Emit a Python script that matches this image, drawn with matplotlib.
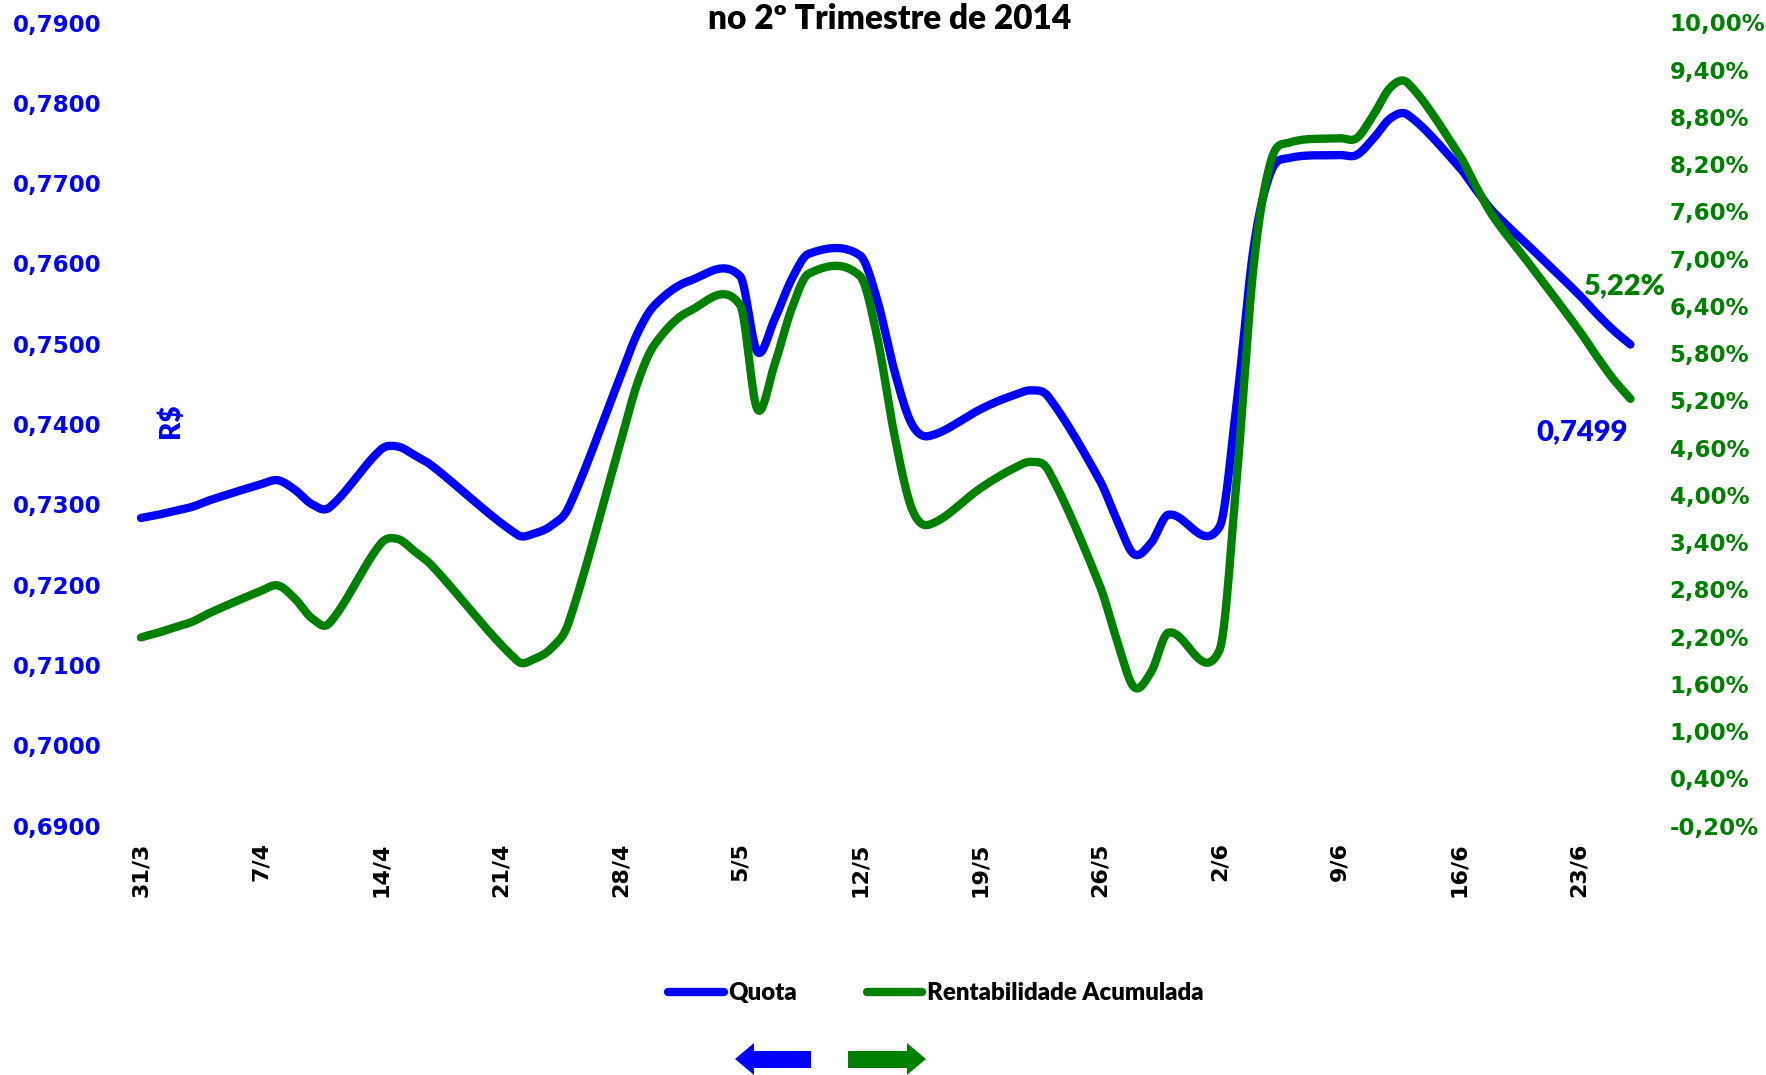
import matplotlib
matplotlib.use("Agg")
import matplotlib.pyplot as plt
import matplotlib.dates as mdates
import numpy as np
import pandas as pd
from matplotlib.patches import Polygon
from matplotlib.ticker import FuncFormatter, FixedLocator

# ---------------- data ----------------
dates = ["2014-03-31", "2014-04-01", "2014-04-02", "2014-04-03", "2014-04-04",
         "2014-04-07", "2014-04-08", "2014-04-09", "2014-04-10", "2014-04-11",
         "2014-04-14", "2014-04-15", "2014-04-16", "2014-04-17",
         "2014-04-22", "2014-04-23", "2014-04-24", "2014-04-25",
         "2014-04-28", "2014-04-29", "2014-04-30", "2014-05-02",
         "2014-05-05", "2014-05-06", "2014-05-07", "2014-05-08", "2014-05-09",
         "2014-05-12", "2014-05-13", "2014-05-14", "2014-05-15", "2014-05-16",
         "2014-05-19", "2014-05-20", "2014-05-21", "2014-05-22", "2014-05-23",
         "2014-05-26", "2014-05-27", "2014-05-28", "2014-05-29", "2014-05-30",
         "2014-06-02", "2014-06-03", "2014-06-04", "2014-06-05", "2014-06-06",
         "2014-06-09", "2014-06-10", "2014-06-11", "2014-06-12", "2014-06-13",
         "2014-06-16", "2014-06-17", "2014-06-18", "2014-06-20",
         "2014-06-23", "2014-06-24", "2014-06-25", "2014-06-26"]

quota = [0.7283, 0.7287, 0.7292, 0.7297, 0.7305,
         0.7325, 0.7330, 0.7318, 0.7300, 0.7296,
         0.7368, 0.7372, 0.7361, 0.7348,
         0.7262, 0.7264, 0.7274, 0.7297,
         0.7459, 0.7513, 0.7548, 0.7578,
         0.7584, 0.7490, 0.7530, 0.7580, 0.7612,
         0.7610, 0.7555, 0.7467, 0.7401, 0.7385,
         0.7418, 0.7428, 0.7436, 0.7442, 0.7434,
         0.7330, 0.7281, 0.7238, 0.7252, 0.7287,
         0.7272, 0.7426, 0.7621, 0.7714, 0.7731,
         0.7735, 0.7735, 0.7756, 0.7781, 0.7785,
         0.7720, 0.7691, 0.7664, 0.7623,
         0.7561, 0.7538, 0.7517, 0.7499]

rentabilidade = [2.19, 2.25, 2.32, 2.39, 2.50,
                 2.78, 2.85, 2.68, 2.43, 2.37,
                 3.38, 3.44, 3.28, 3.10,
                 1.89, 1.92, 2.06, 2.39,
                 4.66, 5.42, 5.91, 6.33,
                 6.41, 5.09, 5.65, 6.36, 6.81,
                 6.78, 6.01, 4.77, 3.84, 3.62,
                 4.08, 4.22, 4.34, 4.42, 4.31,
                 2.85, 2.16, 1.56, 1.75, 2.25,
                 2.03, 4.20, 6.93, 8.24, 8.47,
                 8.53, 8.53, 8.83, 9.18, 9.23,
                 8.32, 7.91, 7.53, 6.96,
                 6.09, 5.77, 5.47, 5.22]

tick_dates = ["2014-03-31", "2014-04-07", "2014-04-14", "2014-04-21", "2014-04-28",
              "2014-05-05", "2014-05-12", "2014-05-19", "2014-05-26", "2014-06-02",
              "2014-06-09", "2014-06-16", "2014-06-23"]
left_ticks = [0.69, 0.70, 0.71, 0.72, 0.73, 0.74, 0.75, 0.76, 0.77, 0.78, 0.79]
right_ticks = [-0.2, 0.4, 1.0, 1.6, 2.2, 2.8, 3.4, 4.0, 4.6, 5.2, 5.8, 6.4,
               7.0, 7.6, 8.2, 8.8, 9.4, 10.0]
title = "no 2º Trimestre de 2014"
series_names = ["Quota", "Rentabilidade Acumulada"]
last_quota_label = "0,7499"
last_rent_label = "5,22%"
unit_label = "R$"

BLUE = "#0000FF"
GREEN = "#008000"
CAL = "Lato"


def smooth(x, y, n=24):
    """Smoothed line through the points (cubic Hermite, central-difference tangents)."""
    x = np.asarray(x, float)
    y = np.asarray(y, float)
    m = np.empty_like(y)
    m[1:-1] = (y[2:] - y[:-2]) / (x[2:] - x[:-2])
    m[0] = (y[1] - y[0]) / (x[1] - x[0])
    m[-1] = (y[-1] - y[-2]) / (x[-1] - x[-2])
    t = np.linspace(0, 1, n)
    xs, ys = [], []
    for i in range(len(x) - 1):
        h = x[i + 1] - x[i]
        h00 = 2 * t ** 3 - 3 * t ** 2 + 1
        h10 = t ** 3 - 2 * t ** 2 + t
        h01 = -2 * t ** 3 + 3 * t ** 2
        h11 = t ** 3 - t ** 2
        yy = h00 * y[i] + h10 * h * m[i] + h01 * y[i + 1] + h11 * h * m[i + 1]
        xx = x[i] + t * h
        if i > 0:
            xx, yy = xx[1:], yy[1:]
        xs.append(xx)
        ys.append(yy)
    return np.concatenate(xs), np.concatenate(ys)


x = mdates.date2num(pd.to_datetime(dates))
xs, qs = smooth(x, quota)
xr, rs = smooth(x, rentabilidade)

W, H = 1766, 1075
fig = plt.figure(figsize=(W / 100, H / 100), dpi=100)
ax_left_px, ax_right_px = 132.4, 1639.0
ax_top_px, ax_bot_px = 22.5, 825.6
ax = fig.add_axes([ax_left_px / W, 1 - ax_bot_px / H,
                   (ax_right_px - ax_left_px) / W, (ax_bot_px - ax_top_px) / H])
ax2 = ax.twinx()

l1, = ax.plot(xs, qs, color=BLUE, lw=6, solid_capstyle="round", solid_joinstyle="round")
l2, = ax2.plot(xr, rs, color=GREEN, lw=6, solid_capstyle="round", solid_joinstyle="round")

x0 = x[0]
ax.set_xlim(x0 - 0.5, x0 + 87.5)
ax.set_ylim(0.69, 0.79)
ax2.set_ylim(-0.2, 10.0)

for a in (ax, ax2):
    for s in a.spines.values():
        s.set_visible(False)
    a.set_facecolor("none")

ax.yaxis.set_major_locator(FixedLocator(left_ticks))
ax.yaxis.set_major_formatter(FuncFormatter(lambda v, p: f"{v:.4f}".replace(".", ",")))
ax2.yaxis.set_major_locator(FixedLocator(right_ticks))
ax2.yaxis.set_major_formatter(FuncFormatter(lambda v, p: f"{v:.2f}%".replace(".", ",")))

tx = mdates.date2num(pd.to_datetime(tick_dates))
ax.xaxis.set_major_locator(FixedLocator(tx))
ax.xaxis.set_major_formatter(FuncFormatter(
    lambda v, p: f"{mdates.num2date(v).day}/{mdates.num2date(v).month}"))

ax.tick_params(axis="y", length=0, pad=22, labelsize=16.5, labelcolor=BLUE)
ax2.tick_params(axis="y", length=0, pad=22, labelsize=16.5, labelcolor=GREEN)
ax.tick_params(axis="x", length=0, pad=12, labelsize=16, labelcolor="black", labelrotation=90)
for lab in ax.get_yticklabels() + ax2.get_yticklabels() + ax.get_xticklabels():
    lab.set_fontweight("bold")
    lab.set_family("DejaVu Sans")

# title
fig.text(890 / W, 1 - 19 / H, title, ha="center", va="center",
         fontsize=24, fontweight="heavy", family=CAL, color="black")

# unit label
fig.text(171 / W, 1 - 421 / H, unit_label, ha="center", va="center", rotation=90,
         fontsize=20, fontweight="heavy", family=CAL, color=BLUE)

# end labels
fig.text(1624 / W, 1 - 286 / H, last_rent_label, ha="center", va="center",
         fontsize=21, fontweight="heavy", family=CAL, color=GREEN)
fig.text(1582 / W, 1 - 432 / H, last_quota_label, ha="center", va="center",
         fontsize=21, fontweight="heavy", family=CAL, color=BLUE)

# legend
leg = fig.legend([l1, l2], series_names, loc="center", bbox_to_anchor=(936 / W, 1 - 993 / H),
                 ncol=2, frameon=False, handlelength=2.3, handletextpad=0.2,
                 columnspacing=2.9, prop=dict(family=CAL, weight="heavy", size=17.3))


# arrows
def poly(pts, color):
    v = [(px / W, 1 - py / H) for px, py in pts]
    fig.add_artist(Polygon(v, closed=True, transform=fig.transFigure, color=color, lw=0))


poly([(735, 1059), (754, 1043), (754, 1051), (811, 1051), (811, 1068), (754, 1068), (754, 1075)], BLUE)
poly([(926, 1059), (907, 1043), (907, 1051), (848, 1051), (848, 1068), (907, 1068), (907, 1075)], GREEN)

fig.savefig("out.png", dpi=100, facecolor="white")
